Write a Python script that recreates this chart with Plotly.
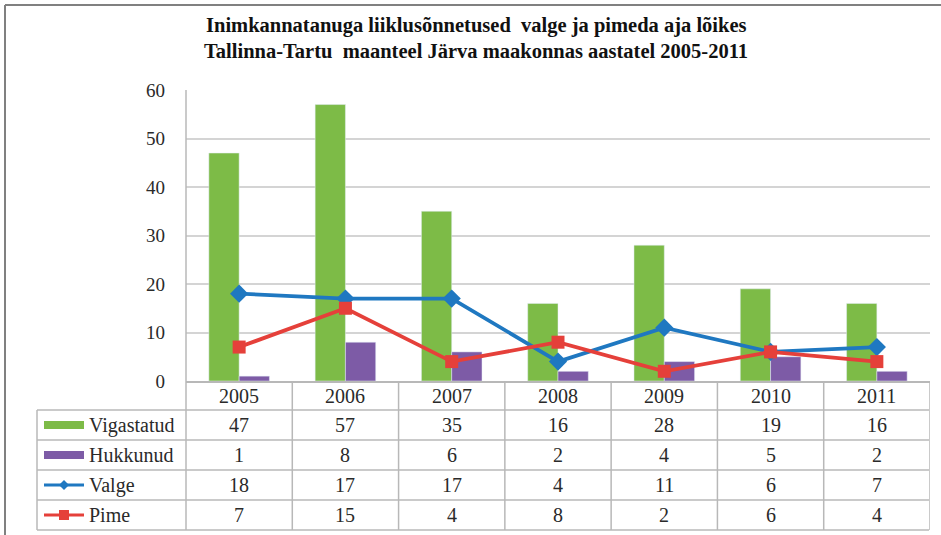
import plotly.graph_objects as go

# ---------------- data ----------------
years = ["2005", "2006", "2007", "2008", "2009", "2010", "2011"]
vigastatud = [47, 57, 35, 16, 28, 19, 16]
hukkunud = [1, 8, 6, 2, 4, 5, 2]
valge = [18, 17, 17, 4, 11, 6, 7]
pime = [7, 15, 4, 8, 2, 6, 4]
series_names = ["Vigastatud", "Hukkunud", "Valge", "Pime"]
title_lines = ["Inimkannatanuga liiklusõnnetused  valge ja pimeda aja lõikes",
               "Tallinna-Tartu  maanteel Järva maakonnas aastatel 2005-2011"]

# ---------------- layout geometry ----------------
W, H = 941, 535
L, R, T, B = 186, 11, 90, 154
pw = W - L - R
ph = H - T - B
FONT = "'Liberation Serif', 'Times New Roman', Times, serif"

GREEN = "#7dbb47"
PURPLE = "#7d5ba6"
BLUE = "#1f78c1"
RED = "#e5403a"
GRID = "#d4d4d4"
TLINE = "#b8b8b8"
TXT = "#2a2a2a"
TSIZE = 20


def px(x):
    return (x - L) / pw


def py(y):
    return (H - B - y) / ph


fig = go.Figure()
fig.add_trace(go.Bar(x=years, y=vigastatud, name=series_names[0], marker_color=GREEN))
fig.add_trace(go.Bar(x=years, y=hukkunud, name=series_names[1], marker_color=PURPLE))
fig.add_trace(go.Scatter(x=years, y=valge, name=series_names[2], mode="lines+markers",
                         line=dict(color=BLUE, width=3.8),
                         marker=dict(symbol="diamond", size=14, color=BLUE)))
fig.add_trace(go.Scatter(x=years, y=pime, name=series_names[3], mode="lines+markers",
                         line=dict(color=RED, width=3.8),
                         marker=dict(symbol="square", size=13, color=RED)))

annotations = []
shapes = []

# title
for i, t in enumerate(title_lines):
    annotations.append(dict(text="<b>%s</b>" % t, x=px(476), y=py(26 + 25 * i), xref="paper", yref="paper",
                            showarrow=False, font=dict(family=FONT, size=20.5, color="#111"),
                            xanchor="center", yanchor="middle"))

# table geometry
row_edges = [381, 410, 440, 470, 500, 530]
centers = [(row_edges[k] + row_edges[k + 1]) / 2 for k in range(5)]
row_values = [vigastatud, hukkunud, valge, pime]

# header row: years
for i, yr in enumerate(years):
    annotations.append(dict(text=yr, x=i, y=py(centers[0]), xref="x", yref="paper", showarrow=False,
                            font=dict(family=FONT, size=TSIZE, color=TXT), xanchor="center", yanchor="middle"))

# value rows
for r, vals in enumerate(row_values):
    yc = py(centers[r + 1])
    for i, v in enumerate(vals):
        annotations.append(dict(text=str(v), x=i, y=yc, xref="x", yref="paper", showarrow=False,
                                font=dict(family=FONT, size=TSIZE, color=TXT), xanchor="center", yanchor="middle"))
    annotations.append(dict(text=series_names[r], x=px(87), y=yc, xref="paper", yref="paper", showarrow=False,
                            font=dict(family=FONT, size=TSIZE, color=TXT), xanchor="left", yanchor="middle"))


def hline(x0, x1, y, color, width):
    shapes.append(dict(type="line", xref="paper", yref="paper", x0=px(x0), x1=px(x1), y0=py(y), y1=py(y),
                       line=dict(color=color, width=width)))


def rect(x0, x1, y0, y1, color):
    shapes.append(dict(type="rect", xref="paper", yref="paper", x0=px(x0), x1=px(x1), y0=py(y0), y1=py(y1),
                       line=dict(width=0), fillcolor=color))


# legend keys in table
kx0, kx1 = 44, 84
kc = (kx0 + kx1) / 2
rect(kx0, kx1, centers[1] - 4, centers[1] + 4, GREEN)
rect(kx0, kx1, centers[2] - 4, centers[2] + 4, PURPLE)
hline(kx0, kx1, centers[3], BLUE, 3)
d = 5
shapes.append(dict(type="path", xref="paper", yref="paper",
                   path="M %f,%f L %f,%f L %f,%f L %f,%f Z" % (
                       px(kc), py(centers[3] - d), px(kc + d), py(centers[3]),
                       px(kc), py(centers[3] + d), px(kc - d), py(centers[3])),
                   fillcolor=BLUE, line=dict(width=0)))
hline(kx0, kx1, centers[4], RED, 3)
rect(kc - 5, kc + 5, centers[4] - 5, centers[4] + 5, RED)

# table lines
for y in row_edges[1:]:
    hline(37, 929, y, TLINE, 1.5)
shapes.append(dict(type="line", xref="paper", yref="paper", x0=px(37), x1=px(37), y0=py(410), y1=py(530),
                   line=dict(color=TLINE, width=1.5)))
shapes.append(dict(type="line", xref="paper", yref="paper", x0=0, x1=0, y0=1, y1=py(530),
                   line=dict(color=TLINE, width=1.5)))
for k in range(len(years)):
    shapes.append(dict(type="line", xref="x", yref="paper", x0=k + 0.5, x1=k + 0.5, y0=0, y1=py(530),
                       line=dict(color=TLINE, width=1.5)))

# outer frame
shapes.append(dict(type="line", xref="paper", yref="paper", x0=px(5), x1=px(941), y0=py(5), y1=py(5),
                   line=dict(color="#808080", width=2)))
shapes.append(dict(type="line", xref="paper", yref="paper", x0=px(5), x1=px(5), y0=py(5), y1=py(535),
                   line=dict(color="#808080", width=2)))

fig.update_layout(
    width=W, height=H,
    margin=dict(l=L, r=R, t=T, b=B, pad=0),
    paper_bgcolor="white", plot_bgcolor="white",
    showlegend=False,
    barmode="group", bargap=0.43, bargroupgap=0,
    annotations=annotations, shapes=shapes,
    font=dict(family=FONT),
    xaxis=dict(type="category", range=[-0.5, 6.5], showticklabels=False, showgrid=False,
               showline=True, linecolor=TLINE, linewidth=1.5, ticks="", zeroline=False),
    yaxis=dict(range=[0, 60], dtick=10, showgrid=True, gridcolor=GRID, gridwidth=2,
               showline=False, zeroline=False, ticks="",
               tickfont=dict(family=FONT, size=19, color=TXT), ticklabelstandoff=20),
)

fig.write_html("out.html", config={"displayModeBar": False},
               post_script="document.body.style.margin='0';document.body.style.padding='0';")
